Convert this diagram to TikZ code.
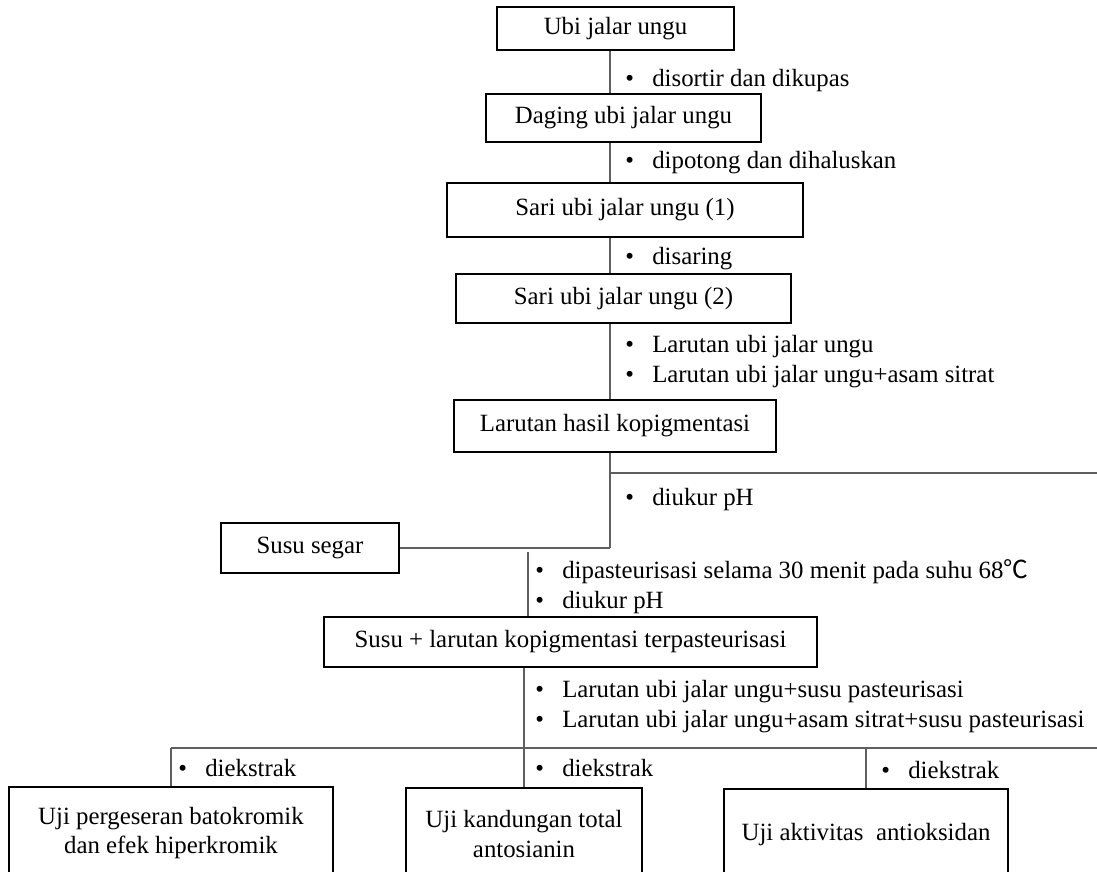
\documentclass[tikz,border=0pt]{standalone}
\usepackage{fontspec}
\setmainfont{Liberation Serif}
\newfontfamily\cjkfont{Noto Sans CJK SC}
\usetikzlibrary{positioning}
\definecolor{linegray}{RGB}{95,95,95}
\newcommand{\itm}[1]{\makebox[0.675cm][l]{\textbullet}#1}
\tikzset{
    box/.style={rectangle,draw,line width=1.3pt,inner sep=0pt,align=center},
    link/.style={draw=linegray,line width=0.75pt},
    note/.style={anchor=west,inner sep=0pt,align=left}
}

\begin{document}
\begin{tikzpicture}[x=0.025cm,y=-0.025cm,font=\fontsize{17.65}{21.3}\selectfont]
\useasboundingbox (0,0) rectangle (1097,872);
\clip (0,0) rectangle (1097,872);
\node [box,minimum width=5.925cm,minimum height=1.075cm] (UJU) at (615.5,28.5) {Ubi jalar ungu};
\node [box,minimum width=6.875cm,minimum height=1.2cm] (DUJ) at (623.5,118) {Daging ubi jalar ungu};
\node [box,minimum width=8.9cm,minimum height=1.35cm] (SUJ1) at (625,210) {Sari ubi jalar ungu (1)};
\node [box,minimum width=8.375cm,minimum height=1.225cm] (SUJ2) at (623.5,298.5) {Sari ubi jalar ungu (2)};
\node [box,minimum width=8.05cm,minimum height=1.3cm] (LHK) at (615,426) {Larutan hasil kopigmentasi};
\node [box,minimum width=4.45cm,minimum height=1.25cm] (SS) at (310,548) {Susu segar};
\node [box,minimum width=12.325cm,minimum height=1.25cm] (SLK) at (570.5,642) {Susu + larutan kopigmentasi terpasteurisasi};
\node [box,minimum width=8.1cm,minimum height=2.3cm] (UPB) at (171,833) {Uji pergeseran batokromik\\dan efek hiperkromik};
\node [box,minimum width=5.9cm,minimum height=2.3cm] (UKT) at (524,834) {Uji kandungan total\\antosianin};
\node [box,minimum width=7.1cm,minimum height=2.3cm] (UAA) at (866,835) {Uji aktivitas~ antioksidan};

\node [note] (n1) at (625,81) {\itm{disortir dan dikupas}};
\node [note] (n2) at (625,163) {\itm{dipotong dan dihaluskan}};
\node [note] (n3) at (625,259) {\itm{disaring}};
\node [note] (n4) at (625,361.5) {\itm{Larutan ubi jalar ungu}\\\itm{Larutan ubi jalar ungu+asam sitrat}};
\node [note] (n5) at (625,500) {\itm{diukur pH}};
\node [note] (n6) at (535,587) {\itm{dipasteurisasi selama 30 menit pada suhu 68{\cjkfont ℃}}\\\itm{diukur pH}};
\node [note] (n7) at (535,707) {\itm{Larutan ubi jalar ungu+susu pasteurisasi}\\\itm{Larutan ubi jalar ungu+asam sitrat+susu pasteurisasi}};
\node [note] (n8) at (178,768) {\itm{diekstrak}};
\node [note] (n9) at (535,768) {\itm{diekstrak}};
\node [note] (n10) at (881,770) {\itm{diekstrak}};

\coordinate (spine) at (610,0);
\coordinate (meet) at (610,548);
\coordinate (cut) at (610,473);
\coordinate (cutR) at (1097,473);
\coordinate (mix) at (528,552);
\coordinate (bar) at (1097,748);
\foreach \a/\b in {UJU/DUJ, DUJ/SUJ1, SUJ1/SUJ2, SUJ2/LHK}
\draw [link] (\a.south -| spine) -- (\b.north -| spine);
\draw [link] (LHK.south -| spine) -- (meet);
\draw [link] (cut) -- (cutR);
\draw [link] (SS.east) -- (meet);
\draw [link] (mix) -- (SLK.north -| mix);
\draw [link] (UKT.north |- SLK.south) -- (UKT.north);
\draw [link] (UPB.north |- bar) -- (bar);
\foreach \t in {UPB, UAA}
\draw [link] (\t.north |- bar) -- (\t.north);
\end{tikzpicture}
\end{document}
